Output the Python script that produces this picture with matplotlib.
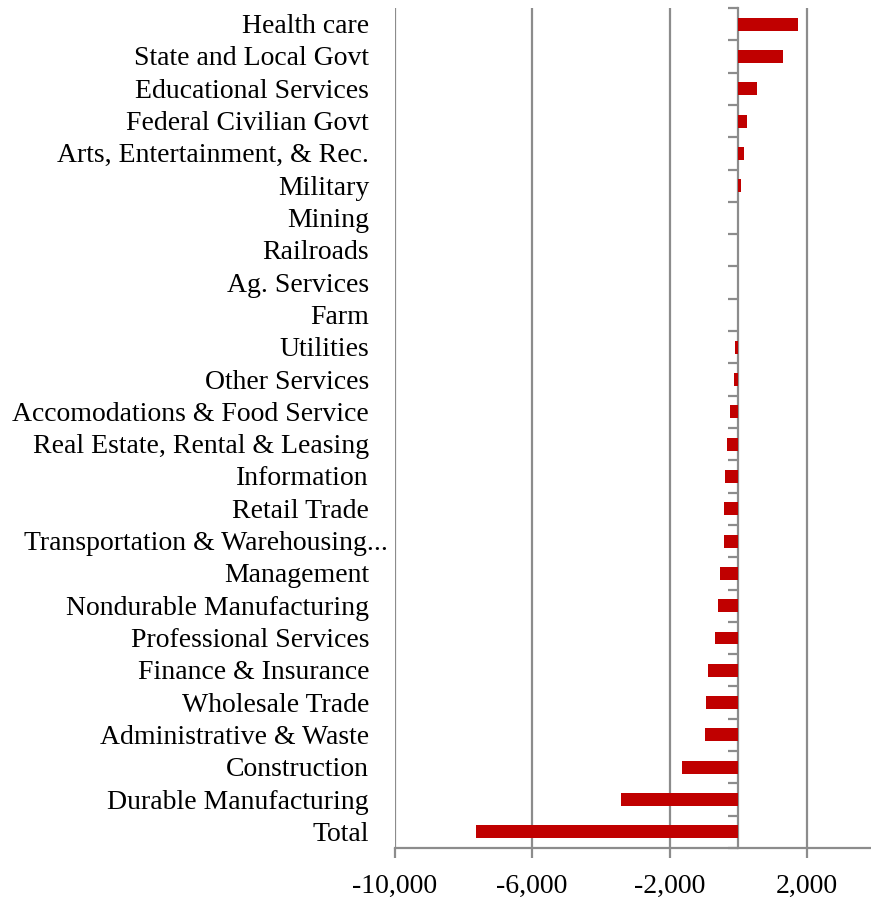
import numpy as np
import matplotlib.pyplot as plt
from matplotlib.transforms import blended_transform_factory, ScaledTranslation

# categories listed top to bottom as in the chart
categories = [
    "Health care", "State and Local Govt", "Educational Services",
    "Federal Civilian Govt", "Arts, Entertainment, & Rec.", "Military",
    "Mining", "Railroads", "Ag. Services", "Farm", "Utilities",
    "Other Services", "Accomodations & Food Service",
    "Real Estate, Rental & Leasing", "Information", "Retail Trade",
    "Transportation & Warehousing...", "Management",
    "Nondurable Manufacturing", "Professional Services",
    "Finance & Insurance", "Wholesale Trade", "Administrative & Waste",
    "Construction", "Durable Manufacturing", "Total",
]
values = [
    1735, 1300, 550, 260, 180, 85,
    2, 1, 1, -10, -90,
    -116, -232,
    -340, -400, -405,
    -426, -522,
    -590, -680,
    -885, -940, -980,
    -1630, -3410, -7620,
]
xticks = [-10000, -6000, -2000, 2000]

gray = "#8c8c8c"
plt.rcParams["font.family"] = ["Liberation Serif", "DejaVu Serif"]

fig = plt.figure(figsize=(8.71, 8.98), dpi=100)
ax = fig.add_axes([394.5 / 871, 1 - 848 / 898, 1 - 394.5 / 871, 840 / 898])

y = np.arange(len(categories))
ax.barh(y, values, height=0.4, color="#c00000", zorder=3)
xmin, xmax = -10000, 3860
ax.set_xlim(xmin, xmax)
ax.set_ylim(len(categories) - 0.5, -0.5)

ax.set_xticks(xticks)
ax.set_xticklabels([f"{v:,}" for v in xticks], fontsize=20)
ax.xaxis.grid(True, color=gray, linewidth=1.6, zorder=0)
ax.tick_params(axis="x", length=7, width=1.6, color=gray, pad=12)

# category labels sit at the low end of the axis, not next to zero
ax.set_yticks([])
trans = blended_transform_factory(ax.transAxes, ax.transData) + \
    ScaledTranslation(0, -0.025, fig.dpi_scale_trans)
for yi, name in zip(y, categories):
    xpos = -0.0136 if name.endswith("...") else -0.0535
    ax.text(xpos, yi, name, transform=trans, ha="right", va="center",
            fontsize=20)

for s in ["top", "right", "left"]:
    ax.spines[s].set_visible(False)
ax.spines["bottom"].set_color(gray)
ax.spines["bottom"].set_linewidth(1.6)

# category axis sits at zero with ticks between categories
zero_frac = (0 - xmin) / (xmax - xmin)
sec = ax.secondary_yaxis(zero_frac)
sec.set_alignment("left")
sec.set_yticks(np.arange(len(categories) + 1) - 0.5)
sec.set_yticklabels([])
sec.tick_params(length=7, width=1.6, color=gray, direction="out")
for s in sec.spines.values():
    s.set_color(gray)
    s.set_linewidth(1.6)

fig.savefig("out.png", dpi=100)
